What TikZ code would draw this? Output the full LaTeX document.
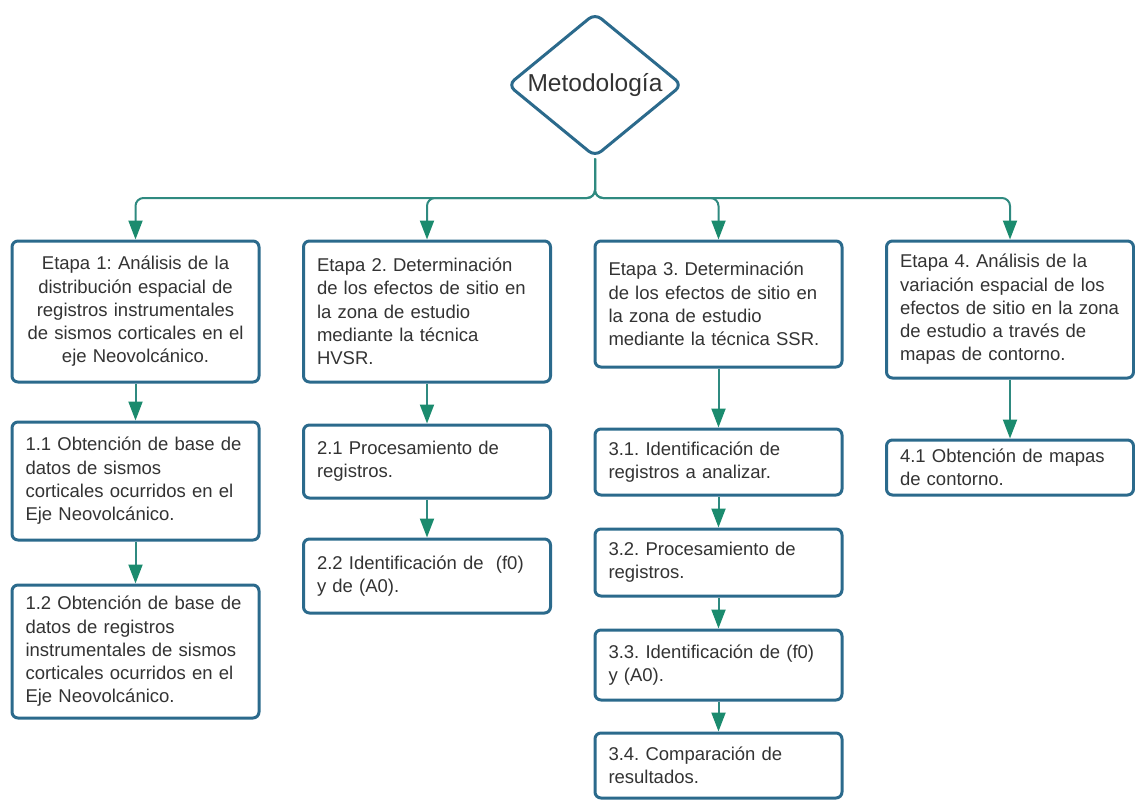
\documentclass[tikz,border=0pt]{standalone}
\usepackage{fontspec}
\setmainfont{Liberation Sans}
\usetikzlibrary{shapes.geometric,arrows.meta,calc}
\definecolor{boxc}{HTML}{2B6A8C}
\definecolor{linec}{HTML}{2F8A80}
\definecolor{tipc}{HTML}{1B8B6E}
\definecolor{txtc}{HTML}{333333}
\frenchspacing
\begin{document}
\begin{tikzpicture}[x=1pt,y=-1pt,
  box/.style={draw=boxc, line width=3pt, rounded corners=6pt, fill=white,
    text=txtc, minimum width=247pt, text width=224pt, inner xsep=11.5pt,
    inner ysep=4pt, align=left, font=\fontsize{18.5}{23.3}\selectfont\frenchspacing},
  cbox/.style={box, align=center},
  conn/.style={draw=linec, line width=2pt, rounded corners=8pt,
    -{Triangle[length=19pt,width=14pt,color=tipc,fill=tipc]}},
  decision/.style={shape=diamond, draw=boxc, line width=3pt, rounded corners=8pt,
    fill=white, text=txtc, inner sep=0pt, aspect=1.215,
    minimum width=175pt, minimum height=144pt,
    font=\fontsize{24.5}{28}\selectfont}
]
\useasboundingbox (0,0) rectangle (1135,800);

\node[decision] (meta) at (595,85) {Metodología};
\coordinate (hub) at (595,198);

\node[cbox, minimum height=141pt] (b1) at (135.5,311.5)
  {Etapa 1: Análisis de la\\distribución espacial de\\registros instrumentales\\de sismos corticales en el\\eje Neovolcánico.};
\node[box, minimum height=118pt] (b11) at (135.5,481)
  {\hspace{2pt}1.1 Obtención de base de\\\hspace{2pt}datos de sismos\\\hspace{2pt}corticales ocurridos en el\\\hspace{2pt}Eje Neovolcánico.};
\node[box, minimum height=133pt] (b12) at (135.5,651.5)
  {\hspace{2pt}1.2 Obtención de base de\\\hspace{2pt}datos de registros\\\hspace{2pt}instrumentales de sismos\\\hspace{2pt}corticales ocurridos en el\\\hspace{2pt}Eje Neovolcánico.};

\node[box, minimum height=141pt] (b2) at (427,311.5)
  {\hspace{2pt}Etapa 2. Determinación\\\hspace{2pt}de los efectos de sitio en\\\hspace{2pt}la zona de estudio\\\hspace{2pt}mediante la técnica\\\hspace{2pt}HVSR.};
\node[box, minimum height=73pt] (b21) at (427,461.5)
  {\hspace{2pt}2.1 Procesamiento de\\\hspace{2pt}registros.};
\node[box, minimum height=74pt] (b22) at (427,576)
  {\hspace{2pt}2.2 Identificación de \ (f0)\\\hspace{2pt}y de (A0).};

\node[box, minimum height=126pt] (b3) at (718.5,304)
  {\hspace{2pt}Etapa 3. Determinación\\\hspace{2pt}de los efectos de sitio en\\\hspace{2pt}la zona de estudio\\\hspace{2pt}mediante la técnica SSR.};
\node[box, minimum height=66pt] (b31) at (718.5,462)
  {\hspace{2pt}3.1. Identificación de\\\hspace{2pt}registros a analizar.};
\node[box, minimum height=67pt] (b32) at (718.5,562.5)
  {\hspace{2pt}3.2. Procesamiento de\\\hspace{2pt}registros.};
\node[box, minimum height=70pt] (b33) at (718.5,665)
  {\hspace{2pt}3.3. Identificación de (f0)\\\hspace{2pt}y (A0).};
\node[box, minimum height=65pt] (b34) at (718.5,765.5)
  {\hspace{2pt}3.4. Comparación de\\\hspace{2pt}resultados.};

\node[box, minimum height=137pt] (b4) at (1010,309.5)
  {\hspace{2pt}Etapa 4. Análisis de la\\\hspace{2pt}variación espacial de los\\\hspace{2pt}efectos de sitio en la zona\\\hspace{2pt}de estudio a través de\\\hspace{2pt}mapas de contorno.};
\node[box, minimum height=55pt] (b41) at (1010,467.5)
  {\hspace{2pt}4.1 Obtención de mapas\\\hspace{2pt}de contorno.};

\draw[conn] (meta.south) -- (hub) -| (b1.north);
\draw[conn] (meta.south) -- (hub) -| (b2.north);
\draw[conn] (meta.south) -- (hub) -| (b3.north);
\draw[conn] (meta.south) -- (hub) -| (b4.north);

\draw[conn] (b1) -- (b11);
\draw[conn] (b11) -- (b12);
\draw[conn] (b2) -- (b21);
\draw[conn] (b21) -- (b22);
\draw[conn] (b3) -- (b31);
\draw[conn] (b31) -- (b32);
\draw[conn] (b32) -- (b33);
\draw[conn] (b33) -- (b34);
\draw[conn] (b4) -- (b41);
\end{tikzpicture}
\end{document}
